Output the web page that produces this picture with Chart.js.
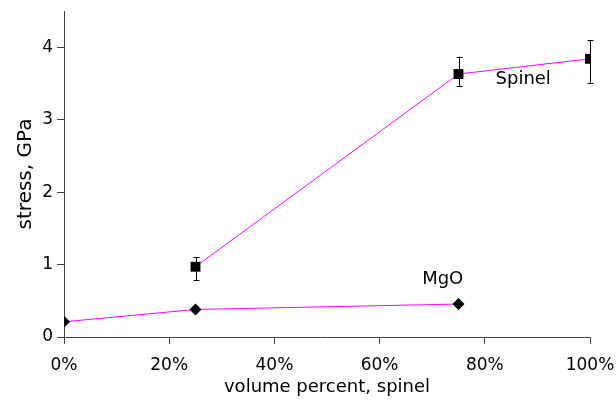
<!DOCTYPE html>
<html><head><meta charset="utf-8">
<script src="https://cdn.jsdelivr.net/npm/chart.js@4/dist/chart.umd.min.js"></script>
<style>html,body{margin:0;padding:0;background:#fff}#wrap{width:616px;height:401px}</style>
</head><body><div id="wrap"><canvas id="c" width="616" height="401"></canvas></div>
<script>
const spinelX = [25, 75, 100];
const spinelY = [0.97, 3.63, 3.84];
const spinelErrLow = [0.79, 3.46, 3.51];
const spinelErrHigh = [1.10, 3.87, 4.10];
const mgoX = [0, 25, 75];
const mgoY = [0.21, 0.38, 0.455];
const xTicks = [0, 20, 40, 60, 80, 100];
const yTicks = [0, 1, 2, 3, 4];
const seriesLabels = ['Spinel', 'MgO'];
const labelPosX = [87.3, 72.0];
const labelPosY = [3.55, 0.80];

const FONT = "'DejaVu Sans', Verdana, sans-serif";

const errorBarPlugin = {
  id: 'errorBars',
  afterDatasetsDraw(chart) {
    const ctx = chart.ctx, xs = chart.scales.x, ys = chart.scales.y;
    ctx.save();
    ctx.strokeStyle = '#000';
    ctx.lineWidth = 1;
    for (let i = 0; i < spinelX.length; i++) {
      const px = Math.round(xs.getPixelForValue(spinelX[i])) + 0.5;
      const top = ys.getPixelForValue(spinelErrHigh[i]);
      const bot = ys.getPixelForValue(spinelErrLow[i]);
      ctx.beginPath();
      ctx.moveTo(px, top); ctx.lineTo(px, bot);
      ctx.moveTo(px - 3, Math.round(top) + 0.5); ctx.lineTo(px + 3, Math.round(top) + 0.5);
      ctx.moveTo(px - 3, Math.round(bot) + 0.5); ctx.lineTo(px + 3, Math.round(bot) + 0.5);
      ctx.stroke();
    }
    ctx.restore();
  }
};

const labelPlugin = {
  id: 'seriesLabels',
  afterDraw(chart) {
    const ctx = chart.ctx, xs = chart.scales.x, ys = chart.scales.y;
    ctx.save();
    ctx.fillStyle = '#000';
    ctx.font = "18px " + FONT;
    ctx.textAlign = 'center';
    ctx.textBaseline = 'middle';
    for (let i = 0; i < seriesLabels.length; i++) {
      ctx.fillText(seriesLabels[i], xs.getPixelForValue(labelPosX[i]), ys.getPixelForValue(labelPosY[i]));
    }
    ctx.restore();
  }
};

new Chart(document.getElementById('c'), {
  type: 'scatter',
  data: {
    datasets: [
      {
        label: 'Spinel',
        data: spinelX.map((x, i) => ({x, y: spinelY[i]})),
        showLine: true,
        borderColor: '#ff00ff',
        borderWidth: 1,
        pointStyle: 'rect',
        pointRadius: 7,
        pointHoverRadius: 7,
        pointBackgroundColor: '#000',
        pointBorderColor: '#000',
        pointBorderWidth: 0
      },
      {
        label: 'MgO',
        data: mgoX.map((x, i) => ({x, y: mgoY[i]})),
        showLine: true,
        borderColor: '#ff00ff',
        borderWidth: 1,
        pointStyle: 'rectRot',
        pointRadius: 6,
        pointHoverRadius: 6,
        pointBackgroundColor: '#000',
        pointBorderColor: '#000',
        pointBorderWidth: 0
      }
    ]
  },
  options: {
    responsive: false,
    animation: false,
    events: [],
    layout: {padding: {left: 0, right: 26, top: 11, bottom: 0}},
    plugins: {legend: {display: false}, tooltip: {enabled: false}},
    scales: {
      x: {
        type: 'linear',
        min: 0, max: 100,
        afterBuildTicks(s) { s.ticks = xTicks.map(v => ({value: v})); },
        afterFit(s) { s.height = 64; s.paddingLeft = 0; s.paddingRight = 0; },
        grid: {drawOnChartArea: false, tickLength: 7, color: '#444', tickWidth: 1},
        border: {color: '#444', width: 1},
        ticks: {
          callback: v => v + '%',
          color: '#000',
          padding: 11,
          maxRotation: 0,
          font: {family: FONT, size: 17}
        },
        title: {
          display: true,
          text: 'volume percent, spinel',
          color: '#000',
          padding: {top: 0, bottom: 3},
          font: {family: FONT, size: 18}
        }
      },
      y: {
        type: 'linear',
        min: 0, max: 4.5,
        afterBuildTicks(s) { s.ticks = yTicks.map(v => ({value: v})); },
        afterFit(s) { s.width = 64; s.paddingTop = 0; s.paddingBottom = 0; },
        grid: {drawOnChartArea: false, tickLength: 7, color: '#444', tickWidth: 1},
        border: {color: '#444', width: 1},
        ticks: {
          color: '#000',
          padding: 4,
          font: {family: FONT, size: 17}
        },
        title: {
          display: true,
          text: 'stress, GPa',
          color: '#000',
          padding: {top: 14, bottom: 0},
          font: {family: FONT, size: 20}
        }
      }
    }
  },
  plugins: [errorBarPlugin, labelPlugin]
});
</script>
</body></html>
